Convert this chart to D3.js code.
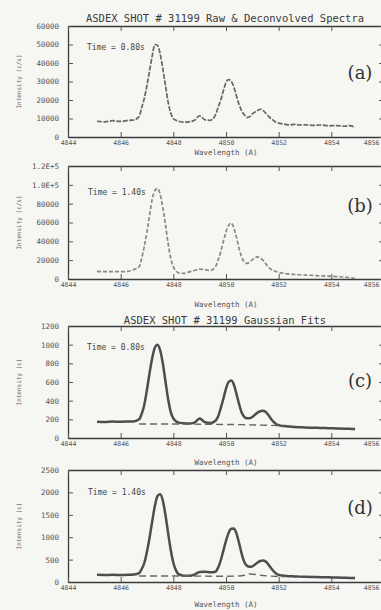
<!DOCTYPE html>
<html>
<head>
<meta charset="utf-8">
<script src="https://cdn.jsdelivr.net/npm/d3@7"></script>
<style>
  body { margin: 0; background: #f6f6f3; }
  svg { display: block; }
  .tick text { font-family: "DejaVu Sans Mono", monospace; fill: #555; }
  .mono { font-family: "DejaVu Sans Mono", monospace; }
</style>
</head>
<body>
<svg id="chart" width="381" height="610"></svg>
<script>
// wavelength grid (A), shared by all four spectra
const waves = [4845.1, 4845.4, 4845.7, 4846.0, 4846.3, 4846.5, 4846.7, 4846.8, 4846.9, 4847.0,
  4847.1, 4847.2, 4847.3, 4847.4, 4847.5, 4847.6, 4847.7, 4847.8, 4847.9, 4848.0,
  4848.1, 4848.2, 4848.4, 4848.6, 4848.8, 4849.0, 4849.2, 4849.4, 4849.6, 4849.7,
  4849.8, 4849.9, 4850.0, 4850.1, 4850.2, 4850.3, 4850.4, 4850.5, 4850.6, 4850.7,
  4850.8, 4850.9, 4851.0, 4851.1, 4851.2, 4851.3, 4851.4, 4851.5, 4851.6, 4851.7,
  4851.8, 4851.9, 4852.0, 4852.2, 4852.4, 4852.6, 4852.8, 4853.0, 4853.3, 4853.6,
  4853.9, 4854.2, 4854.5, 4854.7, 4854.9];

// (a) raw spectrum, t = 0.80 s  (c/s)
const specA = [8500, 8200, 8800, 8400, 9000, 9200, 11000, 16000, 21000, 28000,
  36000, 44000, 50000, 49500, 45000, 37000, 28000, 19000, 13000, 10000,
  9000, 8500, 8000, 8200, 9000, 11500, 9300, 9000, 12000, 16000,
  20000, 25000, 29500, 31000, 30000, 27000, 22000, 17500, 14000, 12000,
  10500, 11000, 12500, 13500, 14300, 15000, 14500, 13000, 11500, 10000,
  9000, 8000, 7500, 7000, 6500, 6800, 6500, 6600, 6300, 6500,
  6000, 6200, 5800, 6200, 5200];

// (b) raw spectrum, t = 1.40 s  (c/s)
const specB = [8000, 7800, 7900, 7800, 8200, 10000, 13000, 22000, 35000, 50000,
  68000, 85000, 94000, 96000, 90000, 76000, 58000, 38000, 22000, 13000,
  8500, 6500, 6000, 7500, 9000, 10500, 10000, 9000, 13000, 20000,
  29000, 40000, 50000, 57000, 59500, 54000, 44000, 32000, 23000, 18000,
  16500, 18000, 20500, 22500, 23500, 22500, 20000, 16500, 13000, 10500,
  9000, 8000, 7000, 6000, 5200, 4800, 4500, 4200, 3800, 3300,
  3000, 2600, 2000, 1500, 500];

// (c) gaussian fit, t = 0.80 s  (c)
const fitC = [175, 172, 176, 174, 176, 178, 200, 260, 360, 520,
  700, 860, 970, 1000, 940, 800, 610, 420, 280, 210,
  180, 165, 158, 155, 165, 210, 168, 160, 185, 230,
  320, 420, 530, 600, 615, 570, 470, 360, 270, 225,
  212, 212, 225, 250, 272, 287, 292, 280, 250, 210,
  175, 150, 138, 128, 122, 118, 115, 112, 110, 107,
  105, 102, 100, 98, 96];

// (d) gaussian fit, t = 1.40 s  (c)
const fitD = [160, 158, 160, 158, 162, 168, 200, 290, 430, 680,
  1000, 1360, 1700, 1920, 1960, 1820, 1500, 1100, 720, 430,
  260, 175, 140, 138, 165, 225, 230, 215, 230, 320,
  480, 700, 920, 1100, 1190, 1195, 1080, 860, 620, 440,
  360, 340, 350, 390, 435, 468, 478, 460, 400, 320,
  245, 190, 160, 140, 130, 125, 120, 116, 112, 108,
  104, 100, 96, 92, 88];

// fitted background (dashed)
const bgWaves = [4846.7, 4848.0, 4849.0, 4850.0, 4850.6, 4850.9, 4851.4, 4852.2];
const bgC = [150, 150, 148, 145, 143, 141, 138, 130];
const bgD = [135, 134, 132, 128, 140, 180, 145, 115];

const xTicks = [4844, 4846, 4848, 4850, 4852, 4854, 4856];
const yTicksA = [0, 10000, 20000, 30000, 40000, 50000, 60000];
const yTicksB = [0, 20000, 40000, 60000, 80000, 100000, 120000];
const yTicksC = [0, 200, 400, 600, 800, 1000, 1200];
const yTicksD = [0, 500, 1000, 1500, 2000, 2500];

const panelTags = ["(a)", "(b)", "(c)", "(d)"];
const timeLabels = ["Time = 0.80s", "Time = 1.40s", "Time = 0.80s", "Time = 1.40s"];
const yTitles = ["Intensity (c/s)", "Intensity (c/s)", "Intensity (c)", "Intensity (c)"];
const titles = ["ASDEX SHOT #  31199 Raw & Deconvolved Spectra", "", "ASDEX SHOT #  31199 Gaussian Fits", ""];
const xTitle = "Wavelength (A)";

// layout
const X0 = 68, X1 = 384;
const layout = [
  { top: 26, bottom: 137, titleY: 22, timeX: 87, timeY: 50, tagY: 79, xlabY: 155 },
  { top: 166, bottom: 279, titleY: 0, timeX: 88, timeY: 195, tagY: 212, xlabY: 307 },
  { top: 326, bottom: 438, titleY: 324, timeX: 87, timeY: 350, tagY: 387, xlabY: 465 },
  { top: 470, bottom: 582, titleY: 0, timeX: 88, timeY: 495, tagY: 514, xlabY: 607 }
];

const panels = [
  { vals: specA, bg: null, yTicks: yTicksA, line: { stroke: "#666", width: 1.7, dash: "5,1.5" } },
  { vals: specB, bg: null, yTicks: yTicksB, line: { stroke: "#888", width: 1.7, dash: "4,2" } },
  { vals: fitC, bg: bgC, yTicks: yTicksC, line: { stroke: "#4d4d4d", width: 2.5, dash: null } },
  { vals: fitD, bg: bgD, yTicks: yTicksD, line: { stroke: "#4d4d4d", width: 2.5, dash: null } }
];

const svg = d3.select("#chart");
const x = d3.scaleLinear().domain([4844, 4856]).range([X0, X1]);

panels.forEach((p, i) => {
  const L = layout[i];
  const y = d3.scaleLinear().domain([0, d3.max(p.yTicks)]).range([L.bottom, L.top]);
  const g = svg.append("g");

  const fmt = v => v >= 100000 ? (v / 100000).toFixed(1) + "E+5" : String(v);

  // frame: four axes, ticks pointing inward
  const left = g.append("g").attr("transform", `translate(${X0},0)`)
    .call(d3.axisLeft(y).tickValues(p.yTicks).tickSize(-5).tickSizeOuter(0).tickPadding(9).tickFormat(fmt));
  left.selectAll("text").style("font-size", "7.5px");

  const bottom = g.append("g").attr("transform", `translate(0,${L.bottom})`)
    .call(d3.axisBottom(x).tickValues(xTicks).tickSize(-5).tickSizeOuter(0).tickPadding(3).tickFormat(d3.format("d")));
  bottom.selectAll("text").style("font-size", "6.5px")
    .filter(d => d === 4856).attr("text-anchor", "end").attr("x", -5);

  g.append("g").attr("transform", `translate(0,${L.top})`)
    .call(d3.axisTop(x).tickValues(xTicks).tickSize(-5).tickSizeOuter(0).tickFormat(""));
  g.append("g").attr("transform", `translate(${X1},0)`)
    .call(d3.axisRight(y).tickValues(p.yTicks).tickSize(-5).tickSizeOuter(0).tickFormat(""));

  g.selectAll(".domain").attr("stroke", "#3a3a3a").attr("stroke-width", 1.3);
  g.selectAll(".tick line").attr("stroke", "#555").attr("stroke-width", 1);

  // spectrum / fit
  const lineGen = d3.line().x((d, k) => x(waves[k])).y(d => y(d)).curve(d3.curveMonotoneX);
  g.append("path").datum(p.vals)
    .attr("fill", "none")
    .attr("stroke", p.line.stroke)
    .attr("stroke-width", p.line.width)
    .attr("stroke-dasharray", p.line.dash)
    .attr("d", lineGen);

  if (p.bg) {
    const bgGen = d3.line().x((d, k) => x(bgWaves[k])).y(d => y(d)).curve(d3.curveMonotoneX);
    g.append("path").datum(p.bg)
      .attr("fill", "none")
      .attr("stroke", "#666")
      .attr("stroke-width", 1.4)
      .attr("stroke-dasharray", "7,4")
      .attr("d", bgGen);
  }

  // texts
  g.append("text").attr("class", "mono")
    .attr("x", L.timeX).attr("y", L.timeY)
    .attr("font-size", 8).attr("fill", "#444")
    .text(timeLabels[i]);

  g.append("text")
    .attr("x", 360).attr("y", L.tagY)
    .attr("text-anchor", "middle")
    .attr("font-family", "DejaVu Serif, serif")
    .attr("font-size", 18).attr("fill", "#333")
    .text(panelTags[i]);

  g.append("text").attr("class", "mono")
    .attr("transform", `translate(21,${(L.top + L.bottom) / 2}) rotate(-90)`)
    .attr("text-anchor", "middle")
    .attr("font-size", 6).attr("fill", "#666")
    .text(yTitles[i]);

  g.append("text").attr("class", "mono")
    .attr("x", 226).attr("y", L.xlabY)
    .attr("text-anchor", "middle")
    .attr("font-size", 7.5).attr("fill", "#555")
    .text(xTitle);

  if (titles[i]) {
    g.append("text").attr("class", "mono")
      .attr("x", 225).attr("y", L.titleY)
      .attr("text-anchor", "middle")
      .attr("font-size", 10.5).attr("fill", "#3a3a3a")
      .text(titles[i]);
  }
});
</script>
</body>
</html>
